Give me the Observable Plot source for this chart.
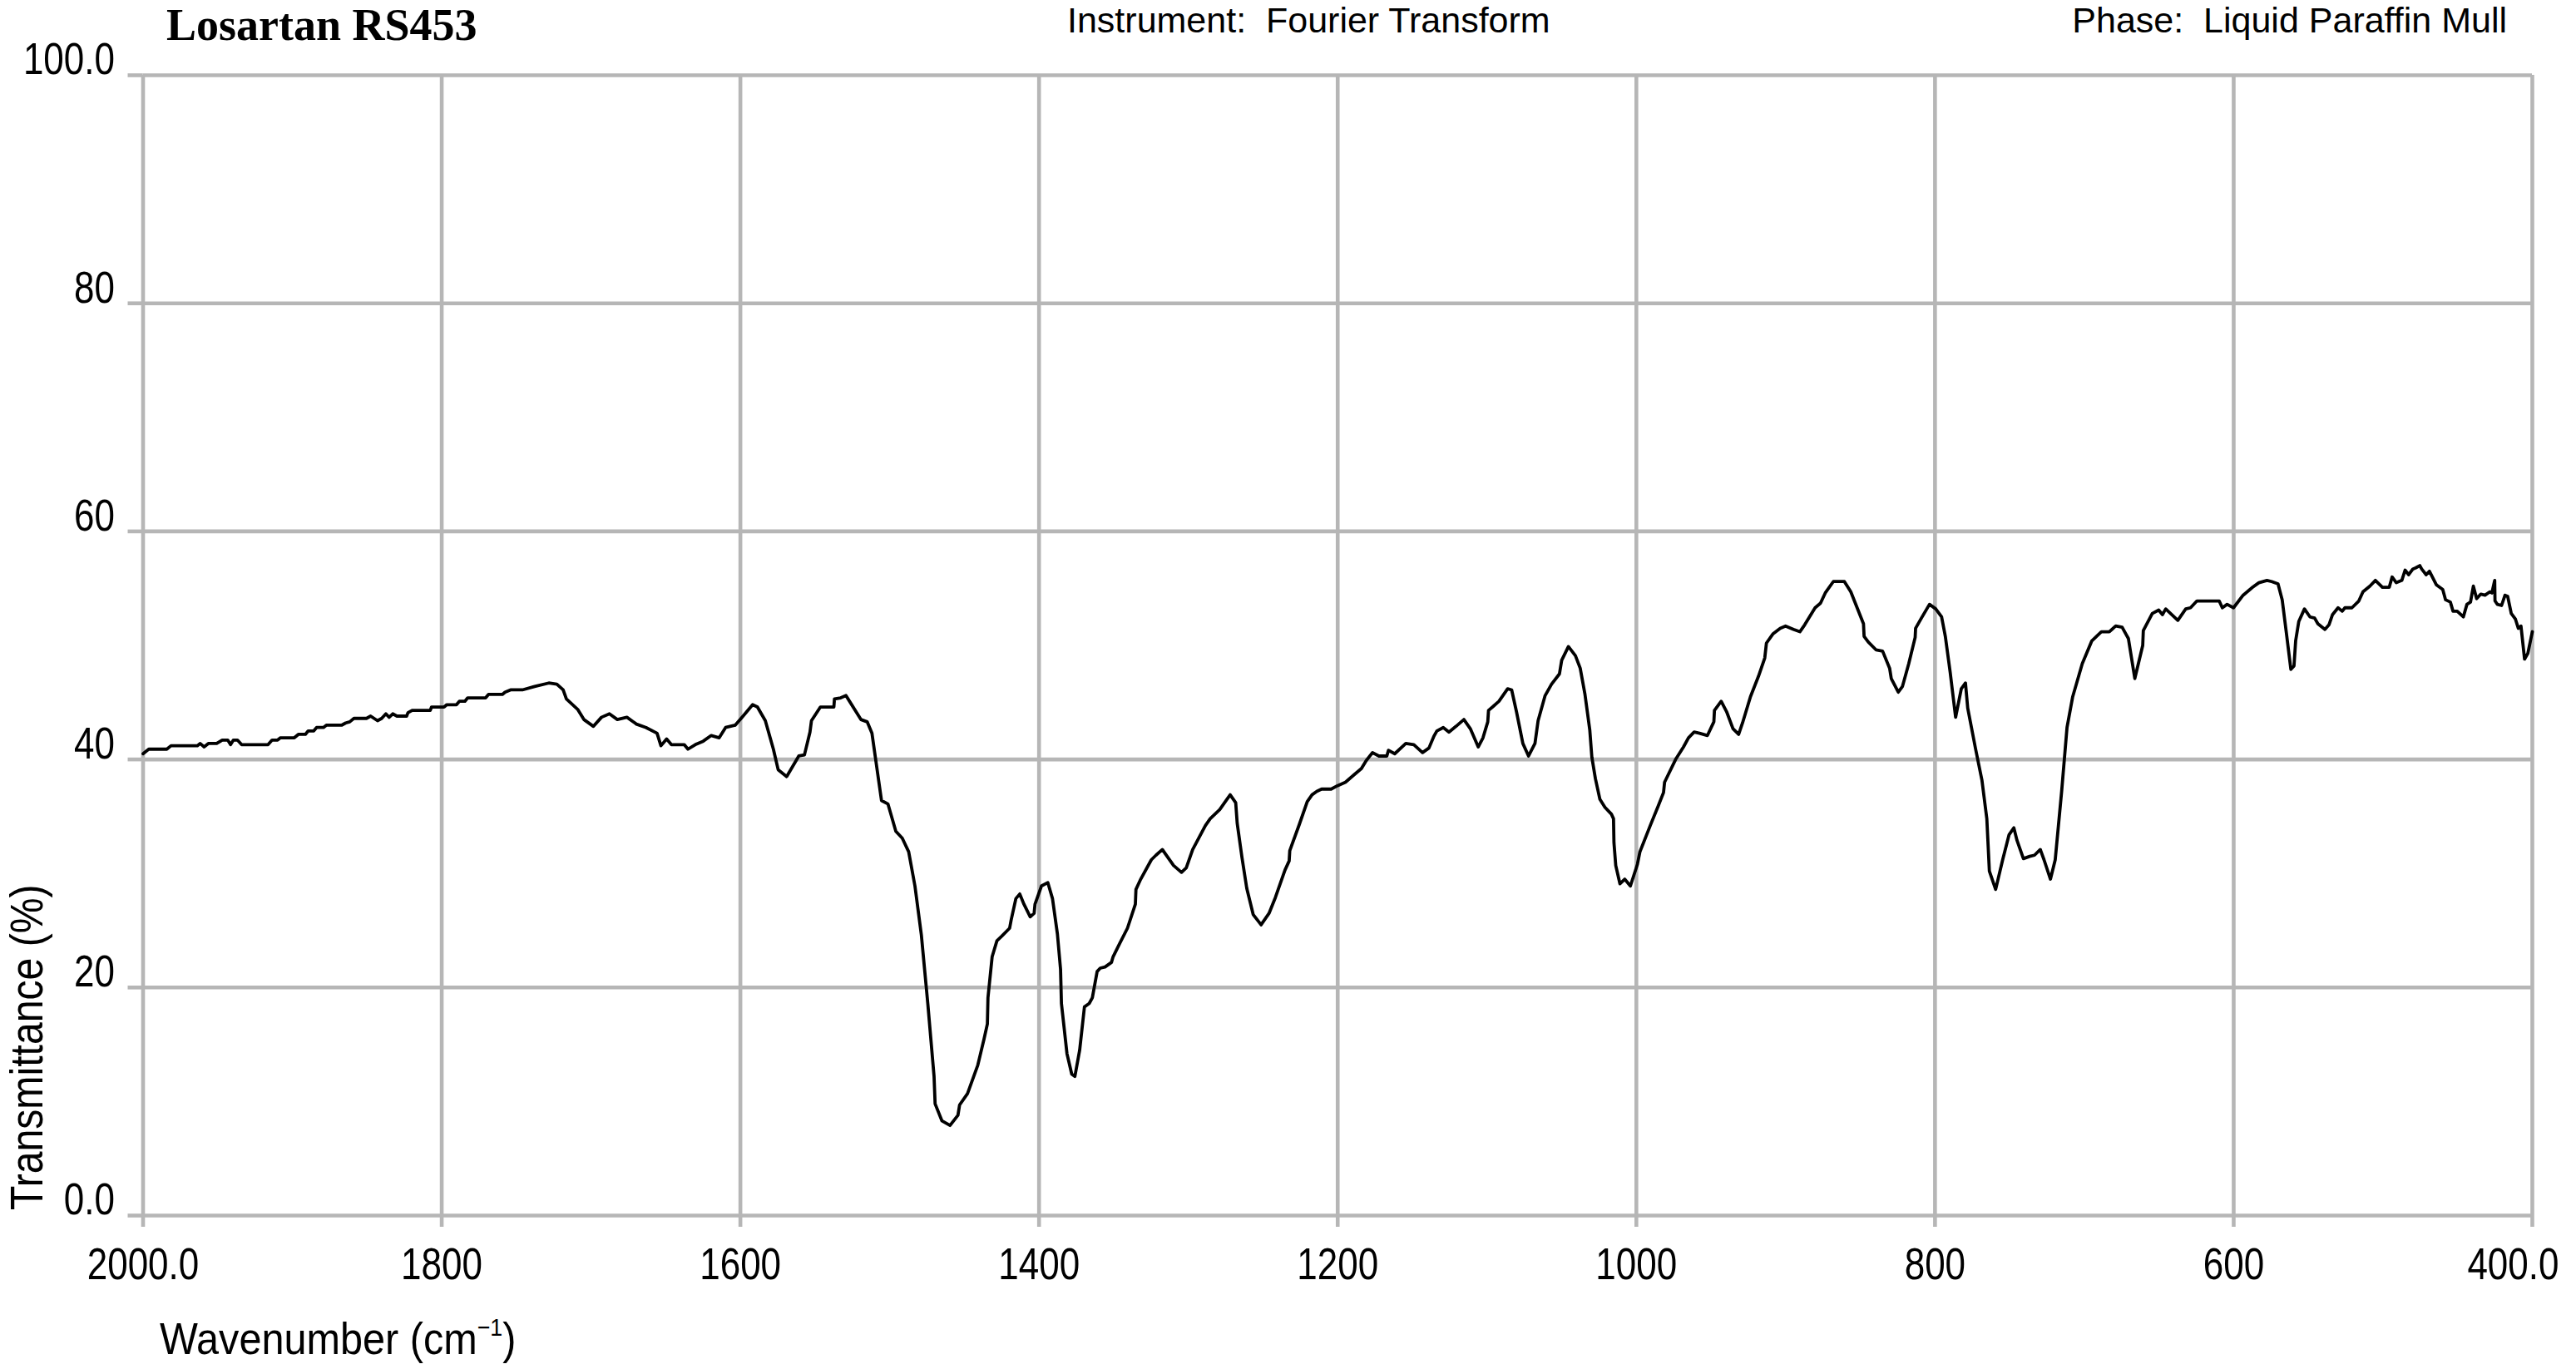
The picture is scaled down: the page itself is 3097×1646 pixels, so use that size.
<!DOCTYPE html>
<html>
<head>
<meta charset="utf-8">
<script src="https://cdn.jsdelivr.net/npm/d3@7"></script>
<script src="https://cdn.jsdelivr.net/npm/@observablehq/plot@0.6"></script>
<style>
  html, body { margin: 0; padding: 0; background: #ffffff; }
  #wrap { position: relative; width: 3097px; height: 1646px; overflow: hidden; background: #ffffff; }
  #wrap svg { position: absolute; left: 0; top: 0; }
  .t { position: absolute; white-space: pre; line-height: 1; color: #000; }
  .sans { font-family: "Liberation Sans", Arial, sans-serif; }
  .serif { font-family: "Liberation Serif", "Times New Roman", serif; font-weight: bold; }
  sup { font-size: 0.55em; vertical-align: 0.75em; line-height: 0; }
</style>
</head>
<body>
<div id="wrap">
  <div class="t serif" style="left:200px; top:3px; font-size:54px;">Losartan RS453</div>
  <div class="t sans" style="left:1283px; top:3px; font-size:43px;">Instrument:  Fourier Transform</div>
  <div class="t sans" style="right:83px; top:3px; font-size:43px;">Phase:  Liquid Paraffin Mull</div>
  <div class="t sans" style="left:4px; top:1455px; font-size:56px; transform-origin:0 0; transform:rotate(-90deg) scaleX(0.86);">Transmittance (%)</div>
  <div class="t sans" style="left:192px; top:1582px; font-size:54px; transform-origin:0 0; transform:scaleX(0.9);">Wavenumber (cm<sup>−1</sup>)</div>
</div>
<script>
// Spectrum: wavenumber (cm-1) and transmittance (%)
const wavenumber = [
  2000, 1996.2, 1984.1, 1981.3, 1963.7, 1961.8, 1959.1, 1956.3, 1950.7, 1947, 1943.3, 1941.4, 1939.5, 1936.8, 1934,
  1916.3, 1913.6, 1909.9, 1908, 1898.7, 1896, 1891.3, 1889.4, 1885.7, 1883.8, 1879.2, 1877.3, 1867.1, 1864.3, 1861.6,
  1858.8, 1850.4, 1847.6, 1843, 1840.2, 1837.4, 1835.2, 1832.8, 1830, 1823.5, 1822.6, 1819.8, 1807.7, 1806.8, 1798.4,
  1796.6, 1790.1, 1788.2, 1784.5, 1782.6, 1770.6, 1768.7, 1759.4, 1757.6, 1753.9,
  1746, 1737.8, 1728.3, 1722.9, 1718.7, 1716.5, 1709, 1704.8, 1698.4, 1693, 1687.7, 1682.4, 1676, 1669.6, 1663.2,
  1655.8, 1653.2, 1649.4, 1646.2, 1637.6, 1635.1, 1630.2, 1624.9, 1619.5, 1614.2, 1609.9, 1603.5, 1598.2, 1591.8,
  1588.6, 1583.3, 1577.9, 1574.7, 1569, 1560.9, 1557.1, 1553.4, 1552.4, 1546.4, 1537.4, 1537, 1532.8, 1529.3, 1519.3,
  1515.1, 1511.9, 1505.5, 1501.2, 1495.9, 1491.6, 1487.3, 1483.1, 1478.8, 1474.5, 1470.3, 1469.6, 1465, 1459.6,
  1454.3, 1453.2, 1447.9,
  1441, 1436.8, 1434.6, 1434.2, 1431.4, 1428.2, 1425, 1419.7, 1418.7, 1415.5, 1412.9, 1410.1, 1405.9, 1403.3, 1402.7,
  1398.4, 1394.1, 1391, 1387.7, 1385.6, 1385, 1381.3, 1378.1, 1376, 1372.8, 1369.6, 1366.4, 1364.3, 1361.1, 1359,
  1355.8, 1351.5, 1350.4, 1346.2, 1340.8, 1335.5, 1335.1, 1332.3, 1324.8, 1321.7, 1317.4, 1315.3, 1309.9, 1304.6,
  1301.4, 1297.1, 1288.6, 1285.4, 1279, 1274.7, 1272, 1268.3, 1267.3, 1264.1, 1260.9, 1256.6, 1251.3, 1246, 1241.7,
  1235.3, 1232.5, 1232.1, 1225.7, 1220.4, 1217.2, 1214, 1210.8, 1204.4, 1200.1, 1194.8, 1189.5, 1184.1, 1180.9,
  1176.7, 1172.4, 1167.1, 1166, 1161.8, 1154.4, 1149,
  1143.2, 1138.9, 1135.7, 1133.6, 1129.3, 1125.5, 1120.8, 1115.5, 1111.2, 1105.9, 1102.7, 1099.5, 1099, 1096.3, 1092,
  1086.2, 1083.5, 1080.3, 1076, 1072.2, 1067.9, 1065.8, 1061.1, 1056.8, 1051.5, 1050, 1045.5, 1040.8, 1037.6, 1034.4,
  1031.2, 1029.8, 1027.4, 1024.4, 1021, 1016.7, 1015.3, 1015, 1013.8, 1011, 1007.8, 1004, 999.3, 997.6, 990.7, 985.4,
  981.8, 981.1, 973.7, 968.4, 965.1, 961.3, 957.7, 952.4, 948.1, 947.7, 943.2, 939.6, 935.3, 931.5, 928.9, 923.6,
  918.2, 914, 912.9, 908.6, 903.7, 900.1, 894.8, 890.5, 887.3, 880.3, 876.7, 873.5, 868.1, 860.7, 856.4, 847.9, 847.5,
  844.7, 839.4, 835.1,
  830.4, 829.3, 824.6, 821.8, 817.6, 813.3, 813, 809.1, 803.7, 799.5, 795.6, 793.1, 789.9, 786.2, 782.4, 779.6, 778.1,
  772.8, 768.6, 765.3, 763.6, 759.4, 754.7, 750.4, 747.2, 745.1, 740.8, 736.6, 733.4, 729.5, 727, 722.7, 719.5, 715.2,
  711.6, 707.8, 701.4, 695, 688.6, 683.3, 679, 674.7, 670.5, 666.2, 660.9, 660.5, 654.5, 650.2, 647.7, 645.5, 637.4,
  632.1, 628.9, 624.6, 609.7, 607.6, 604.4, 600.1, 593.7, 587.3, 583.1, 577.7, 574.5, 570.3, 567.5, 564.9, 561.7,
  559.6, 558.5, 556.4, 552.6, 548.9, 545.8, 543.6, 538.9, 536.2,
  533.8, 530.1, 527.3, 525.5, 520.8, 516.2, 513.4, 508.8, 505.1, 500.4, 495.8, 493.9, 491.1, 487.4, 485.2, 482.8, 480,
  478.1, 475.4, 474.1, 471.1, 468.9, 464.2, 460, 458.1, 454.9, 453.1, 450.3, 446.2, 443.8, 441.4, 439.5, 437.3, 434.5,
  431.7, 428.4, 427.1, 425.2, 425, 423.4, 420.6, 418.3, 416.5, 414.1, 411.3, 409.4, 407.6, 405.2, 403, 400
];
const transmittance = [
  40.5, 40.9, 40.9, 41.2, 41.2, 41.4, 41.1, 41.4, 41.4, 41.7, 41.7, 41.3, 41.7, 41.7, 41.3,
  41.3, 41.7, 41.7, 41.9, 41.9, 42.2, 42.2, 42.5, 42.5, 42.8, 42.8, 43.0, 43.0, 43.2, 43.3,
  43.6, 43.6, 43.8, 43.4, 43.6, 44.0, 43.7, 44.0, 43.8, 43.8, 44.1, 44.3, 44.3, 44.6, 44.6,
  44.8, 44.8, 45.1, 45.1, 45.4, 45.4, 45.7, 45.7, 45.9, 46.1,
  46.1, 46.4, 46.7, 46.6, 46.1, 45.3, 44.4, 43.5, 42.9, 43.7, 44.0, 43.5, 43.7, 43.1, 42.8,
  42.3, 41.2, 41.8, 41.3, 41.3, 40.9, 41.3, 41.6, 42.1, 41.9, 42.8, 43.0, 43.8, 44.8,
  44.6, 43.4, 40.9, 39.1, 38.5, 40.3, 40.4, 42.4, 43.4, 44.6, 44.6, 45.3, 45.4, 45.6, 43.5,
  43.3, 42.3, 36.4, 36.1, 33.7, 33.1, 31.9, 28.9, 24.6, 18.6, 12.2, 9.8, 8.3, 7.9,
  8.8, 9.7, 10.7,
  13.2, 15.5, 16.8, 19.1, 22.7, 24.1, 24.5, 25.2, 25.9, 27.8, 28.2, 27.3, 26.2, 26.5, 27.3,
  28.9, 29.2, 27.8, 24.7, 21.6, 18.6, 14.2, 12.4, 12.2, 14.5, 18.3, 18.6, 19.1, 21.4, 21.7,
  21.8, 22.2, 22.7, 23.8, 25.2, 27.3, 28.6, 29.4, 31.2, 31.6, 32.1, 31.7, 30.7, 30.1,
  30.5, 32.1, 34.2, 34.8, 35.6, 36.4, 36.9, 36.2, 34.4, 31.4, 28.7, 26.4, 25.5, 26.5, 27.9,
  30.3, 31.1, 32.0, 34.3, 36.3, 36.9, 37.2, 37.4, 37.4, 37.7, 38.0, 38.6, 39.2, 39.9,
  40.6, 40.3, 40.3, 40.8, 40.5, 41.4, 41.3,
  40.6, 41.0, 42.0, 42.5, 42.8, 42.4, 42.9, 43.5, 42.7, 41.1, 41.9, 43.3, 44.3, 44.6, 45.1,
  46.2, 46.1, 44.2, 41.4, 40.3, 41.4, 43.4, 45.6, 46.6, 47.5, 48.7, 49.9, 49.1, 48.0, 45.7,
  42.6, 40.2, 38.3, 36.5, 35.8, 35.2, 34.8, 32.7, 30.7, 29.1, 29.5, 28.9, 30.8, 31.9, 34.2, 35.9,
  37.1, 38.0, 40.0, 41.1, 41.9, 42.4, 42.3, 42.1, 43.3, 44.3, 45.1, 44.2, 42.7, 42.2, 43.2, 45.5,
  47.3, 48.9, 50.2, 51.0, 51.5, 51.7, 51.4, 51.2, 51.8, 53.3, 53.7, 54.6, 55.6, 55.6, 54.7, 51.9, 50.8,
  50.3, 49.6, 49.5,
  48.0, 47.1, 45.9, 46.4, 48.4, 50.7, 51.5, 52.4, 53.6, 53.2, 52.5, 50.8, 47.7, 43.7, 46.2, 46.7, 44.5,
  40.9, 38.2, 34.8, 30.2, 28.6, 31.2, 33.4, 34.0, 32.9, 31.3, 31.5, 31.6, 32.1, 31.2, 29.5, 31.2, 37.2,
  42.8, 45.5, 48.4, 50.4, 51.2, 51.2, 51.7, 51.6, 50.6, 47.1, 50.0, 51.3, 52.8, 53.1, 52.7, 53.2, 52.2,
  53.2, 53.3, 53.9, 53.9, 53.3, 53.6, 53.3, 54.4, 55.1, 55.5, 55.7, 55.6, 55.4, 54.0, 51.3, 47.9,
  48.2, 50.4, 52.1, 53.2, 52.5, 52.4, 51.9, 51.4, 51.8,
  52.7, 53.3, 53.0, 53.3, 53.3, 53.9, 54.7, 55.2, 55.7, 55.1, 55.1, 56.0, 55.5, 55.7, 56.6, 56.2, 56.7,
  56.8, 57.0, 56.7, 56.2, 56.5, 55.3, 54.9, 54.0, 53.8, 53.0, 53.0, 52.5, 53.6, 53.8, 55.2, 54.1, 54.5,
  54.4, 54.7, 54.6, 55.7, 53.9, 53.6, 53.5, 54.4, 54.3, 52.8, 52.3, 51.5, 51.7, 48.8, 49.3, 51.2
];

const xTicks = [2000, 1800, 1600, 1400, 1200, 1000, 800, 600, 400];
const xTickLabels = ["2000.0", "1800", "1600", "1400", "1200", "1000", "800", "600", "400.0"];
const yTicks = [0, 20, 40, 60, 80, 100];
const yTickLabels = ["0.0", "20", "40", "60", "80", "100.0"];

const data = wavenumber.map((w, i) => ({w, t: transmittance[i]}));
const xFmt = new Map(xTicks.map((d, i) => [d, xTickLabels[i]]));
const yFmt = new Map(yTicks.map((d, i) => [d, yTickLabels[i]]));

const GRID = "#b6b6b6";
const SANS = '"Liberation Sans", Arial, sans-serif';
const labelOpts = {tickSize: 0, tickPadding: 39, tickFormat: d => xFmt.get(d), fontSize: 53, fill: "#000", label: null};

const chart = Plot.plot({
  width: 3097,
  height: 1646,
  marginLeft: 171.5,
  marginRight: 53,
  marginTop: 90,
  marginBottom: 185,
  style: {background: "#ffffff", color: "#000000", fontFamily: SANS, fontSize: "53px", overflow: "visible"},
  x: {domain: [2000, 400]},
  y: {domain: [0, 100]},
  marks: [
    Plot.gridX(xTicks, {stroke: GRID, strokeOpacity: 1, strokeWidth: 4.6}),
    Plot.gridY(yTicks, {stroke: GRID, strokeOpacity: 1, strokeWidth: 4.6}),
    Plot.axisX(xTicks, {tickSize: 14, stroke: GRID, strokeWidth: 4.6, tickFormat: () => "", label: null}),
    Plot.axisX(xTicks.slice(0, -1), labelOpts),
    Plot.axisX(xTicks.slice(-1), {...labelOpts, textAnchor: "end", dx: 32}),
    Plot.axisY(yTicks, {tickSize: 18, stroke: GRID, strokeWidth: 4.6, tickFormat: () => "", label: null}),
    Plot.axisY(yTicks, {tickSize: 0, tickPadding: 34, dy: -18, tickFormat: d => yFmt.get(d), fontSize: 53, fill: "#000", label: null}),
    Plot.line(data, {x: "w", y: "t", stroke: "#000", strokeWidth: 3.8, strokeLinejoin: "round", strokeLinecap: "round"})
  ]
});
const wrap = document.getElementById("wrap");
wrap.insertBefore(chart, wrap.firstChild);

// Condense the tick labels horizontally (the reference uses a narrow sans face).
chart.querySelectorAll("text").forEach(t => {
  if (!t.textContent) return;
  const L = t.getComputedTextLength();
  if (L <= 0) return;
  t.setAttribute("textLength", (L * 0.83).toFixed(1));
  t.setAttribute("lengthAdjust", "spacingAndGlyphs");
});
</script>
</body>
</html>
